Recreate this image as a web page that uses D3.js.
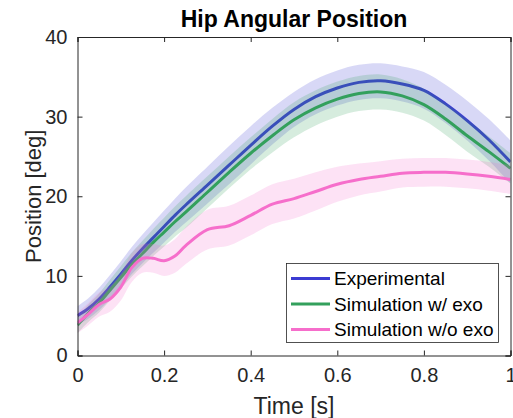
<!DOCTYPE html>
<html>
<head>
<meta charset="utf-8">
<script src="https://cdn.jsdelivr.net/npm/d3@7"></script>
<style>
  body { margin: 0; background: #fff; }
  text { font-family: "Liberation Sans", Arial, Helvetica, sans-serif; }
</style>
</head>
<body>
<svg></svg>
<script>
// chart data
var time = [0, 0.025, 0.05, 0.075, 0.1, 0.125, 0.15, 0.175, 0.2, 0.225, 0.25, 0.3, 0.35, 0.4, 0.45, 0.5, 0.55, 0.6, 0.65, 0.7, 0.75, 0.8, 0.85, 0.9, 0.95, 1.0];

var expMean = [5.0, 5.9, 7.1, 8.6, 10.2, 11.9, 13.4, 14.8, 16.2, 17.6, 18.9, 21.4, 23.9, 26.4, 28.8, 30.9, 32.5, 33.6, 34.3, 34.5, 34.1, 33.3, 31.6, 29.5, 27.1, 24.3];
var expSd   = [1.2, 1.3, 1.4, 1.5, 1.6, 1.7, 1.8, 1.9, 2.0, 2.1, 2.2, 2.3, 2.4, 2.4, 2.3, 2.2, 2.2, 2.2, 2.2, 2.2, 2.2, 2.3, 2.4, 2.5, 2.6, 2.7];

var exoMean = [3.8, 5.3, 6.6, 8.2, 9.8, 11.4, 12.8, 14.2, 15.5, 16.8, 18.0, 20.5, 23.0, 25.4, 27.6, 29.6, 31.1, 32.2, 32.9, 33.1, 32.6, 31.5, 29.7, 27.6, 25.6, 23.5];
var exoSd   = [1.0, 1.1, 1.2, 1.3, 1.4, 1.5, 1.6, 1.7, 1.8, 1.9, 2.0, 2.0, 2.0, 2.0, 2.1, 2.2, 2.2, 2.2, 2.2, 2.2, 2.1, 2.0, 2.0, 2.0, 1.9, 1.9];

var noExoMean = [4.1, 5.2, 6.4, 7.1, 8.6, 11.0, 12.2, 12.2, 11.9, 12.5, 13.8, 15.8, 16.3, 17.6, 19.0, 19.7, 20.6, 21.5, 22.1, 22.5, 22.9, 23.0, 23.0, 22.8, 22.5, 22.1];
var noExoSd   = [1.3, 1.4, 1.5, 1.6, 1.7, 1.8, 1.8, 1.8, 1.9, 2.1, 2.3, 2.5, 2.5, 2.5, 2.5, 2.5, 2.4, 2.2, 2.0, 1.9, 1.8, 1.8, 1.8, 1.8, 1.8, 1.8];

var seriesNames = ['Experimental', 'Simulation w/ exo', 'Simulation w/o exo'];
var seriesColors = ['#3b3bd2', '#33a05c', '#f66ecb'];

var xTicks = [0, 0.2, 0.4, 0.6, 0.8, 1];
var yTicks = [0, 10, 20, 30, 40];

// build series objects
function makeSeries(mean, sd, i) {
    var pts = [];
    for (var k = 0; k < time.length; k++) {
        pts.push({t: time[k], m: mean[k], lo: mean[k] - sd[k], hi: mean[k] + sd[k]});
    }
    return {name: seriesNames[i], color: seriesColors[i], values: pts};
}

var series = [
    makeSeries(expMean, expSd, 0),
    makeSeries(exoMean, exoSd, 1),
    makeSeries(noExoMean, noExoSd, 2)
];

function drawChart() {
    var svgWidth = 513, svgHeight = 418;
    var margin = {top: 37, right: 2.5, bottom: 62.5, left: 77.5};
    var width = svgWidth - margin.left - margin.right;
    var height = svgHeight - margin.top - margin.bottom;
    var axisColor = '#262626';

    var svg = d3.select('svg')
        .attr('width', svgWidth)
        .attr('height', svgHeight);

    var g = svg.append('g')
        .attr('transform', 'translate(' + margin.left + ',' + margin.top + ')');

    var x = d3.scaleLinear().domain([0, 1]).range([0, width]);
    var y = d3.scaleLinear().domain([0, 40]).range([height, 0]);

    var area = d3.area()
        .x(function(d) { return x(d.t); })
        .y0(function(d) { return y(d.lo); })
        .y1(function(d) { return y(d.hi); })
        .curve(d3.curveCatmullRom);

    var line = d3.line()
        .x(function(d) { return x(d.t); })
        .y(function(d) { return y(d.m); })
        .curve(d3.curveCatmullRom);

    g.append('clipPath').attr('id', 'plotclip')
        .append('rect').attr('width', width).attr('height', height);

    var plot = g.append('g').attr('clip-path', 'url(#plotclip)');

    // band then mean line for each series, like MATLAB does
    series.forEach(function(s) {
        plot.append('path')
            .datum(s.values)
            .attr('fill', s.color)
            .attr('fill-opacity', 0.2)
            .attr('stroke', 'none')
            .attr('d', area);
        plot.append('path')
            .datum(s.values)
            .attr('fill', 'none')
            .attr('stroke', s.color)
            .attr('stroke-width', 3)
            .attr('stroke-linejoin', 'round')
            .attr('d', line);
    });

    // axes (box on, ticks inside)
    var bottom = g.append('g')
        .attr('transform', 'translate(0,' + height + ')')
        .call(d3.axisBottom(x).tickValues(xTicks).tickSize(-5).tickPadding(12)
            .tickFormat(function(d) { return d === 0 || d === 1 ? d3.format('d')(d) : d3.format('.1f')(d); }));
    var left = g.append('g')
        .call(d3.axisLeft(y).tickValues(yTicks).tickSize(-5).tickPadding(10));
    var top = g.append('g')
        .call(d3.axisTop(x).tickValues(xTicks).tickSize(-5).tickFormat(''));
    var right = g.append('g')
        .attr('transform', 'translate(' + width + ',0)')
        .call(d3.axisRight(y).tickValues(yTicks).tickSize(-5).tickFormat(''));

    [bottom, left, top, right].forEach(function(a) {
        a.select('.domain').attr('stroke', axisColor);
        a.selectAll('.tick line').attr('stroke', axisColor);
        a.selectAll('.tick text')
            .attr('fill', axisColor)
            .style('font-family', '"Liberation Sans", Arial, sans-serif')
            .style('font-size', '20px');
    });

    // title and labels
    svg.append('text')
        .attr('x', margin.left + width / 2)
        .attr('y', 27)
        .attr('text-anchor', 'middle')
        .style('font-size', '23px')
        .style('font-weight', 'bold')
        .attr('fill', '#000')
        .text('Hip Angular Position');

    svg.append('text')
        .attr('x', margin.left + width / 2)
        .attr('y', 414)
        .attr('text-anchor', 'middle')
        .style('font-size', '23px')
        .attr('fill', axisColor)
        .text('Time [s]');

    svg.append('text')
        .attr('transform', 'translate(41,' + (margin.top + height / 2) + ') rotate(-90)')
        .attr('text-anchor', 'middle')
        .style('font-size', '22px')
        .attr('fill', axisColor)
        .text('Position [deg]');

    // legend
    var legend = svg.append('g').attr('transform', 'translate(286.5,263.5)');
    legend.append('rect')
        .attr('width', 212)
        .attr('height', 79)
        .attr('fill', '#fff')
        .attr('stroke', axisColor)
        .attr('stroke-width', 0.8);

    series.forEach(function(s, i) {
        var ly = 15 + i * 25.5;
        legend.append('line')
            .attr('x1', 4.5).attr('x2', 43.5)
            .attr('y1', ly).attr('y2', ly)
            .attr('stroke', s.color)
            .attr('stroke-width', 3);
        legend.append('text')
            .attr('x', 47.5)
            .attr('y', ly)
            .attr('dy', '0.35em')
            .style('font-size', '19px')
            .attr('fill', '#000')
            .text(s.name);
    });
}

drawChart();
</script>
</body>
</html>
